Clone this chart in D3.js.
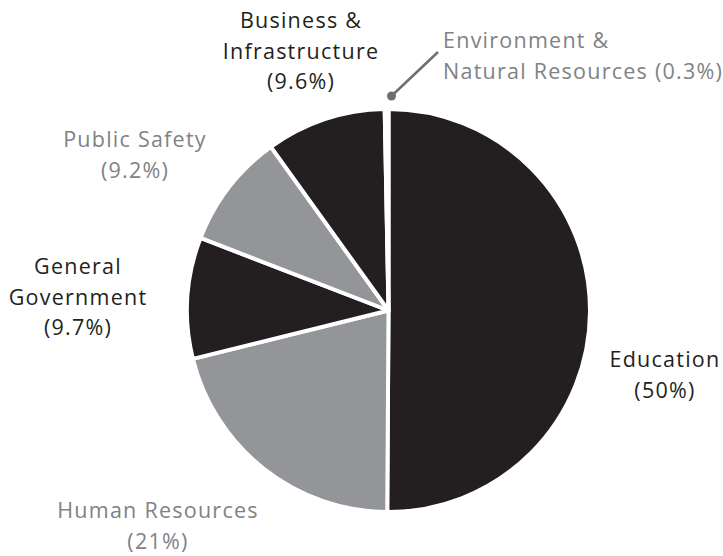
<!DOCTYPE html>
<html>
<head>
<meta charset="utf-8">
<script src="https://cdn.jsdelivr.net/npm/d3@7"></script>
<style>
  body { margin: 0; background: #fff; }
  text { font-family: "Open Sans", sans-serif; font-size: 21.5px; letter-spacing: 1.25px; }
</style>
</head>
<body>
<script>
// slices clockwise from 12 o'clock
var categories = ["Education", "Human Resources", "General Government", "Public Safety", "Business & Infrastructure", "Environment & Natural Resources"];
var shares = [50, 21, 9.7, 9.2, 9.6, 0.3];
var sliceColors = ["#231f20", "#939598", "#231f20", "#939598", "#231f20", "#939598"];

// label lines for each category
var labelLines = [
	["Education", "(50%)"],
	["Human Resources", "(21%)"],
	["General", "Government", "(9.7%)"],
	["Public Safety", "(9.2%)"],
	["Business &", "Infrastructure", "(9.6%)"],
	["Environment &", "Natural Resources (0.3%)"]
];
var labelColors = ["#231f20", "#808285", "#231f20", "#808285", "#231f20", "#808285"];

var width = 723;
var height = 556;
var cx = 388.5, cy = 310.5, radius = 201.5;

var data = categories.map((c, i) => {
	return { name: c, value: shares[i], color: sliceColors[i], lines: labelLines[i], textColor: labelColors[i] };
});

var svg = d3.select("body")
	.append("svg")
		.attr("width", width)
		.attr("height", height);

var pie = d3.pie()
	.sort(null)
	.value((d) => { return d.value; });

var arc = d3.arc()
	.innerRadius(0)
	.outerRadius(radius);

var g = svg.append("g")
	.attr("transform", "translate(" + cx + ", " + cy + ")");

g.selectAll("path")
	.data(pie(data))
	.enter()
	.append("path")
	.attr("d", arc)
	.attr("fill", (d) => { return d.data.color; })
	.attr("stroke", "#fff")
	.attr("stroke-width", 4)
	.attr("stroke-linejoin", "round");

// label placement (anchor point, first baseline, alignment)
var labelPos = [
	{ x: 665, y: 367, anchor: "middle" },
	{ x: 158, y: 518, anchor: "middle" },
	{ x: 78, y: 274, anchor: "middle" },
	{ x: 135, y: 147, anchor: "middle" },
	{ x: 301, y: 28, anchor: "middle" },
	{ x: 443, y: 48, anchor: "start" }
];
var lineHeight = 30.5;

var labels = svg.selectAll("text.label")
	.data(data)
	.enter()
	.append("text")
	.attr("class", "label")
	.attr("text-anchor", (d, i) => { return labelPos[i].anchor; })
	.attr("fill", (d) => { return d.textColor; });

labels.each(function(d, i) {
	var t = d3.select(this);
	d.lines.forEach((line, j) => {
		t.append("tspan")
			.attr("x", labelPos[i].x)
			.attr("y", labelPos[i].y + j * lineHeight)
			.text(line);
	});
});

// leader for the tiny slice
var dotX = cx + 3;
var dotY = cy - radius - 13;
svg.append("line")
	.attr("x1", dotX)
	.attr("y1", dotY)
	.attr("x2", 438)
	.attr("y2", 52)
	.attr("stroke", "#6d6e71")
	.attr("stroke-width", 2.5);
svg.append("circle")
	.attr("cx", dotX)
	.attr("cy", dotY)
	.attr("r", 4.5)
	.attr("fill", "#6d6e71");
</script>
</body>
</html>
